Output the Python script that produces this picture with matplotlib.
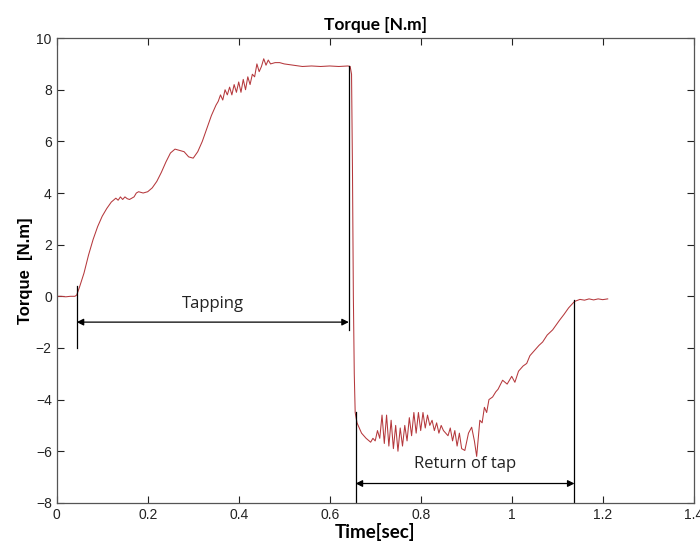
import matplotlib
matplotlib.use("Agg")
import matplotlib.pyplot as plt

# ==========================================
# data
# ==========================================

time_s = [
    0.0, 0.01, 0.02, 0.03, 0.04, 0.044,
    0.05, 0.06, 0.07, 0.08, 0.09, 0.10, 0.11, 0.12, 0.13, 0.135,
    0.14, 0.145, 0.15, 0.155, 0.16, 0.17, 0.175, 0.18, 0.19, 0.20,
    0.21, 0.22, 0.23, 0.24, 0.25, 0.26, 0.27, 0.28, 0.29, 0.30,
    0.31, 0.32, 0.33, 0.34, 0.35, 0.355, 0.36, 0.365, 0.37, 0.375,
    0.38, 0.385, 0.39, 0.395, 0.40, 0.405, 0.41, 0.415, 0.42, 0.425,
    0.43, 0.435, 0.44, 0.445, 0.45, 0.455, 0.46, 0.465, 0.47, 0.48,
    0.49, 0.50, 0.52, 0.54, 0.56, 0.58, 0.60, 0.62, 0.64, 0.645,
    0.648, 0.65, 0.652, 0.654, 0.656,
    0.66, 0.67, 0.675, 0.68, 0.69, 0.695, 0.70, 0.705, 0.71, 0.715,
    0.72, 0.725, 0.73, 0.735, 0.74, 0.745, 0.75, 0.755, 0.76, 0.765,
    0.77, 0.775, 0.78, 0.785, 0.79, 0.795, 0.80, 0.805, 0.81, 0.815,
    0.82, 0.825, 0.83, 0.835, 0.84, 0.845, 0.85, 0.86, 0.865, 0.87,
    0.875, 0.88, 0.885, 0.89, 0.897, 0.905, 0.912, 0.918, 0.923, 0.93,
    0.935, 0.94, 0.945, 0.95, 0.958, 0.965, 0.97, 0.98, 0.99, 1.0,
    1.007, 1.015, 1.025, 1.033, 1.04, 1.05, 1.06, 1.068, 1.078, 1.09,
    1.105, 1.115, 1.125, 1.138, 1.15, 1.16, 1.17, 1.18, 1.19, 1.2,
    1.211,
]

torque_nm = [
    0.0, 0.0, -0.02, 0.0, 0.0, 0.05,
    0.35, 0.9, 1.6, 2.2, 2.7, 3.1, 3.4, 3.65, 3.8, 3.72,
    3.85, 3.75, 3.85, 3.78, 3.75, 3.85, 4.0, 4.05, 4.0, 4.05,
    4.2, 4.45, 4.8, 5.2, 5.55, 5.7, 5.65, 5.6, 5.4, 5.35,
    5.6, 6.0, 6.5, 7.0, 7.4, 7.55, 7.8, 7.6, 8.0, 7.8,
    8.1, 7.8, 8.2, 7.9, 8.3, 7.9, 8.4, 8.0, 8.5, 8.2,
    8.6, 8.5, 9.0, 8.7, 8.9, 9.2, 8.95, 9.15, 9.0, 9.05,
    9.05, 9.0, 8.95, 8.9, 8.92, 8.9, 8.92, 8.9, 8.92, 8.9,
    8.6, 5.0, 0.0, -3.0, -4.5,
    -4.9, -5.3, -5.4, -5.5, -5.65, -5.5, -5.6, -5.2, -5.5, -4.6,
    -5.7, -4.6, -5.8, -4.8, -5.9, -5.0, -6.0, -5.1, -5.8, -5.0,
    -5.6, -4.7, -5.4, -4.5, -5.3, -4.5, -5.2, -4.5, -5.1, -4.6,
    -5.0, -4.8, -5.2, -4.9, -5.3, -5.0, -5.2, -5.4, -5.1, -5.6,
    -5.2, -5.8, -5.3, -5.9, -5.97, -5.3, -5.07, -5.6, -6.2, -4.8,
    -4.9, -4.3, -4.5, -4.0, -3.9, -3.7, -3.6, -3.25, -3.4, -3.1,
    -3.33, -2.9, -2.7, -2.6, -2.3, -2.1, -1.9, -1.77, -1.5, -1.3,
    -0.93, -0.7, -0.45, -0.2, -0.12, -0.15, -0.1, -0.14, -0.1, -0.13,
    -0.1,
]

x_ticks = [0, 0.2, 0.4, 0.6, 0.8, 1.0, 1.2, 1.4]
x_tick_labels = ["0", "0.2", "0.4", "0.6", "0.8", "1", "1.2", "1.4"]
y_ticks = [-8, -6, -4, -2, 0, 2, 4, 6, 8, 10]

# phase markers
tap_start = 0.044
tap_end = 0.642
return_start = 0.657
return_end = 1.138

# ==========================================
# plot
# ==========================================

fig = plt.figure(figsize=(7.0, 5.52), dpi=100)
ax = fig.add_axes([0.081, 0.089, 0.910, 0.842])

ax.plot(time_s, torque_nm, color="#b5383c", linewidth=0.75)

ax.set_xlim(0, 1.4)
ax.set_ylim(-8, 10)
ax.set_xticks(x_ticks)
ax.set_xticklabels(x_tick_labels)
ax.set_yticks(y_ticks)

ax.tick_params(direction="in", top=True, right=True, length=5,
               width=0.8, colors="#222222", labelsize=10)
for lbl in ax.get_xticklabels() + ax.get_yticklabels():
    lbl.set_family("Liberation Sans")
for s in ax.spines.values():
    s.set_color("#555555")
    s.set_linewidth(0.9)

ax.set_title("Torque [N.m]", fontsize=12.5, fontweight="bold",
             family="Lato", pad=6)
ax.set_xlabel("Time[sec]", fontsize=13.5, fontweight="bold",
              family="Lato", labelpad=1)
ax.set_ylabel("Torque  [N.m]", fontsize=12, fontweight="bold",
              family="Liberation Sans", labelpad=2)

# tapping annotation
ax.plot([tap_start, tap_start], [0.4, -2.0], color="black", linewidth=0.9)
ax.plot([tap_end, tap_end], [8.92, -1.3], color="black", linewidth=0.9)
ax.annotate("", xy=(tap_start, -1.0), xytext=(tap_end, -1.0),
            arrowprops=dict(arrowstyle="<|-|>", color="black", lw=0.9,
                            mutation_scale=10, shrinkA=0, shrinkB=0))
ax.text(0.343, -0.3, "Tapping", fontsize=12, family="Open Sans",
        ha="center", va="center", color="#222222")

# return annotation
ax.plot([return_start, return_start], [-4.5, -8], color="black", linewidth=0.9)
ax.plot([return_end, return_end], [-0.15, -8], color="black", linewidth=0.9)
ax.annotate("", xy=(return_start, -7.25), xytext=(return_end, -7.25),
            arrowprops=dict(arrowstyle="<|-|>", color="black", lw=0.9,
                            mutation_scale=10, shrinkA=0, shrinkB=0))
ax.text(0.897, -6.5, "Return of tap", fontsize=12, family="Open Sans",
        ha="center", va="center", color="#222222")

fig.savefig("out.png", dpi=100)
